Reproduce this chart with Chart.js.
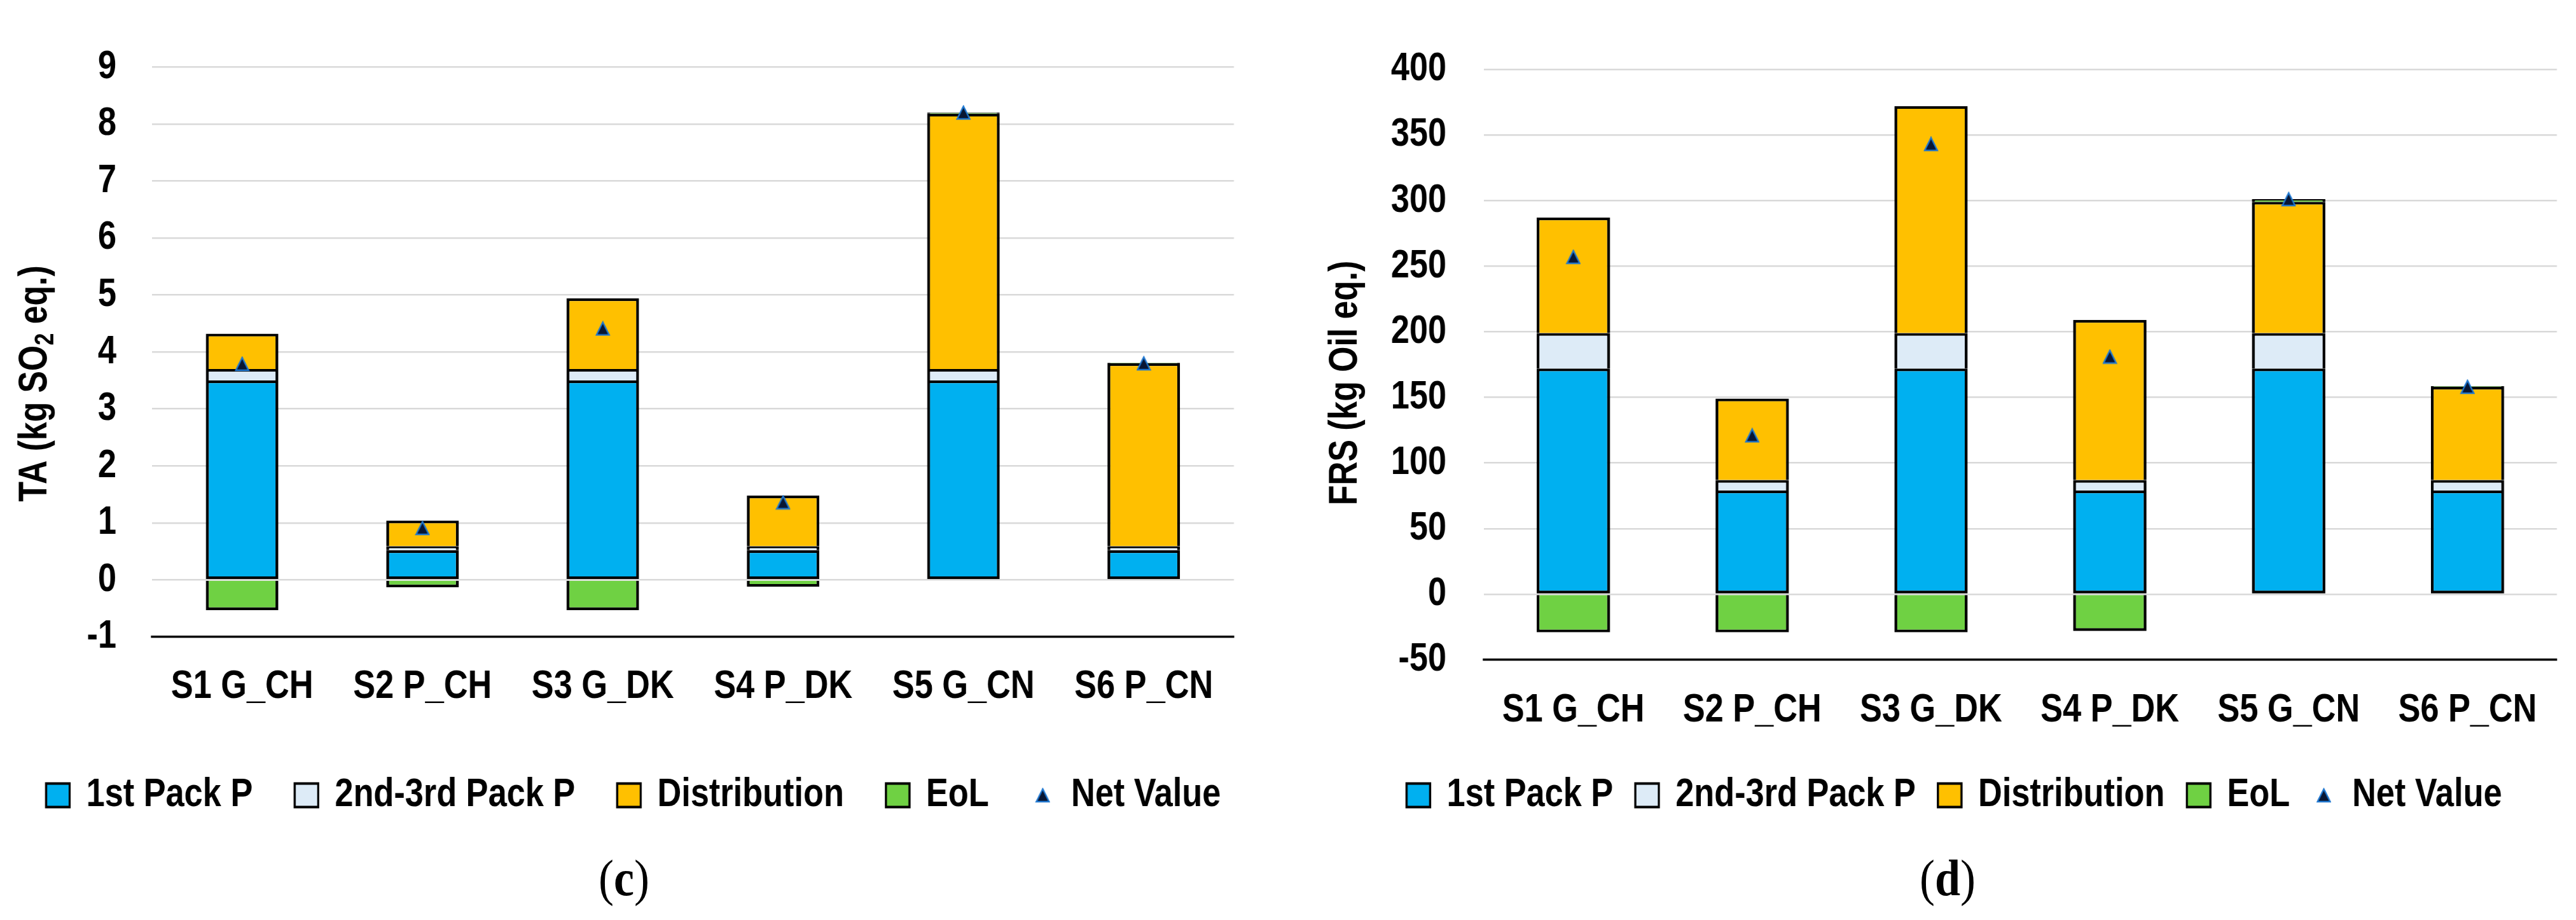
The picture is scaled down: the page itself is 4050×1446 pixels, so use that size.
<!DOCTYPE html>
<html>
<head>
<meta charset="utf-8">
<script src="https://cdn.jsdelivr.net/npm/chart.js@4/dist/chart.umd.min.js"></script>
<style>
html, body { margin: 0; padding: 0; background: #fff; overflow: hidden; width: 4050px; height: 1446px; position: relative; }
/* the figure uses a condensed (Arial Narrow-like) face: draw on a wider canvas and condense it horizontally */
canvas { position: absolute; top: 0; transform-origin: 0 0; transform: scaleX(0.83); }
#chartC { left: -20px; }
#chartD { left: 2025px; }
.panel { position: absolute; top: 1330px; font-family: "Liberation Serif", "Times New Roman", serif; font-size: 80px; line-height: 100px; color: #000; transform: translateX(-50%) scaleX(0.9); white-space: nowrap; }
</style>
</head>
<body>
<canvas id="chartC" width="2448" height="1446"></canvas>
<canvas id="chartD" width="2524" height="1446"></canvas>
<div class="panel" style="left:981px">(<b>c</b>)</div>
<div class="panel" style="left:3062px">(<b>d</b>)</div>
<script>
// ---------- data ----------
const categories = ['S1 G_CH', 'S2 P_CH', 'S3 G_DK', 'S4 P_DK', 'S5 G_CN', 'S6 P_CN'];
const seriesNames = ['1st Pack P', '2nd-3rd Pack P', 'Distribution', 'EoL', 'Net Value'];

// (c) TA (kg SO2 eq.)
const taFirstPack    = [3.50, 0.52, 3.50, 0.52, 3.50, 0.52];
const taSecondPack   = [0.20, 0.07, 0.20, 0.07, 0.20, 0.07];
const taDistribution = [0.62, 0.45, 1.24, 0.89, 4.48, 3.21];
const taEoL          = [-0.53, -0.13, -0.53, -0.12, 0.02, 0.01];
const taNet          = [3.79, 0.91, 4.41, 1.36, 8.20, 3.80];
const taAxis         = { min: -1, max: 9, step: 1 };

// (d) FRS (kg Oil eq.)
const frsFirstPack    = [172, 79, 172, 79, 172, 79];
const frsSecondPack   = [27, 8, 27, 8, 27, 8];
const frsDistribution = [88, 62, 173, 122, 100, 71];
const frsEoL          = [-29, -29, -29, -28, 2, 0.5];
const frsNet          = [257, 121, 343, 181, 301, 158];
const frsAxis         = { min: -50, max: 400, step: 50 };

// ---------- styling ----------
const S = 0.83;        // horizontal condensing of the canvases (CSS)
const NARROW = 0.82;   // width factor of the narrow face for the rotated titles
const FONT = '"Liberation Sans", Arial, sans-serif';
const COLORS = ['#00B0F0', '#DDEBF7', '#FFC000', '#6FD143'];
const MARK_FILL = '#081633';
const MARK_LINE = '#1F77D0';

Chart.defaults.font.family = FONT;
Chart.defaults.font.weight = 'bold';
Chart.defaults.font.size = 63;
Chart.defaults.color = '#000';

function triangleImage() {
  const c = document.createElement('canvas');
  c.width = 28; c.height = 24;
  const g = c.getContext('2d');
  g.beginPath();
  g.moveTo(14, 2); g.lineTo(26, 22); g.lineTo(2, 22); g.closePath();
  g.fillStyle = MARK_FILL; g.fill();
  g.lineWidth = 2.6; g.strokeStyle = MARK_LINE; g.stroke();
  return c;
}

const yTitlePlugin = {
  id: 'yTitle',
  afterDraw(chart, args, opts) {
    const ctx = chart.ctx;
    ctx.save();
    ctx.translate(opts.x, opts.y);
    ctx.rotate(-Math.PI / 2);
    ctx.scale(NARROW, 1 / S);
    ctx.fillStyle = '#000';
    ctx.textBaseline = 'alphabetic';
    ctx.textAlign = 'left';
    let total = 0;
    const parts = opts.parts.map(p => {
      ctx.font = 'bold ' + p.size + 'px ' + FONT;
      const w = ctx.measureText(p.text).width;
      total += w;
      return Object.assign({ w }, p);
    });
    let x = -total / 2;
    parts.forEach(p => {
      ctx.font = 'bold ' + p.size + 'px ' + FONT;
      ctx.fillText(p.text, x, p.dy);
      x += p.w;
    });
    ctx.restore();
  }
};

// g: geometry in canvas (logical) pixels
function makeChart(id, s, ax, g) {
  const tri = triangleImage();
  const bw = { top: 4.3, bottom: 4.3, left: 5.4, right: 5.4 };
  const bar = {
    type: 'bar', yAxisID: 'y', borderColor: '#000', borderWidth: bw, borderSkipped: 'start',
    barPercentage: g.barPct, categoryPercentage: 1, order: 1, pointStyle: 'rect'
  };
  const tickFont = { size: 63, weight: 'bold', family: FONT };
  return new Chart(document.getElementById(id), {
    data: {
      labels: categories,
      datasets: [
        Object.assign({}, bar, { label: seriesNames[0], data: s.first, backgroundColor: COLORS[0], borderSkipped: false }),
        Object.assign({}, bar, { label: seriesNames[1], data: s.second, backgroundColor: COLORS[1] }),
        Object.assign({}, bar, { label: seriesNames[2], data: s.dist, backgroundColor: COLORS[2] }),
        Object.assign({}, bar, { label: seriesNames[3], data: s.eol, backgroundColor: COLORS[3] }),
        { type: 'line', yAxisID: 'y', label: seriesNames[4], data: s.net, showLine: false, order: -1,
          pointStyle: tri, pointRadius: 12, pointHoverRadius: 12,
          backgroundColor: MARK_FILL, borderColor: MARK_LINE }
      ]
    },
    options: {
      responsive: false, animation: false, devicePixelRatio: 1, events: [],
      layout: { padding: { left: 0, right: 0, top: g.padT, bottom: g.padB }, autoPadding: false },
      plugins: {
        tooltip: { enabled: false },
        legend: {
          position: 'bottom', align: 'center',
          labels: {
            usePointStyle: true, pointStyleWidth: 37 / S, boxWidth: 37 / S, boxHeight: 37,
            padding: g.legPad, color: '#000', font: tickFont,
            generateLabels(chart) {
              const items = Chart.defaults.plugins.legend.labels.generateLabels(chart);
              items.sort((a, b) => a.datasetIndex - b.datasetIndex);
              items.forEach(it => {
                const ds = chart.data.datasets[it.datasetIndex];
                if (ds.type === 'line') { it.pointStyle = tri; it.lineWidth = 0; }
                else { it.pointStyle = 'rect'; it.lineWidth = 4; it.strokeStyle = '#000'; it.fillStyle = ds.backgroundColor; }
              });
              return items;
            }
          }
        },
        yTitle: { x: g.titleX, y: g.titleY, parts: g.titleParts }
      },
      scales: {
        x: {
          stacked: true,
          grid: { display: false, drawTicks: false },
          border: { display: true, color: '#000', width: 3.5 },
          ticks: { padding: g.xTickPad, maxRotation: 0, minRotation: 0, autoSkip: false, color: '#000', font: tickFont },
          afterFit(sc) { sc.height = g.xAxisH; }
        },
        y: {
          stacked: true, position: 'left', min: ax.min, max: ax.max,
          ticks: { stepSize: ax.step, autoSkip: false, padding: g.yTickPad, color: '#000', font: tickFont },
          grid: {
            drawTicks: false, lineWidth: 2.5,
            color: c => (c.tick && c.tick.value === ax.min) ? 'rgba(0,0,0,0)' : '#D9D9D9'
          },
          border: { display: false },
          afterFit(sc) { sc.width = g.yAxisW; }
        },
        // empty spacer on the right that fixes where the plot area ends
        yR: {
          type: 'linear', axis: 'y', position: 'right', display: true,
          ticks: { display: false }, grid: { display: false, drawTicks: false }, border: { display: false },
          afterFit(sc) { sc.width = g.rightW; }
        }
      }
    },
    plugins: [yTitlePlugin]
  });
}

// left canvas: screen x = -20 + 0.83 * canvas x
makeChart('chartC',
  { first: taFirstPack, second: taSecondPack, dist: taDistribution, eol: taEoL, net: taNet },
  taAxis,
  { padT: 63, padB: 154.5, yAxisW: 312.0, rightW: 86.6, xAxisH: 137.9,
    yTickPad: 67.5, xTickPad: 41, legPad: 79.6, barPct: 0.402,
    titleX: 112.0, titleY: 603,
    titleParts: [ { text: 'TA (kg SO', size: 63, dy: 0 }, { text: '2', size: 42, dy: 11 }, { text: ' eq.)', size: 63, dy: 0 } ] });

// right canvas: screen x = 2025 + 0.83 * canvas x
makeChart('chartD',
  { first: frsFirstPack, second: frsSecondPack, dist: frsDistribution, eol: frsEoL, net: frsNet },
  frsAxis,
  { padT: 63, padB: 154.5, yAxisW: 371.1, rightW: 120.4, xAxisH: 139.5,
    yTickPad: 71.1, xTickPad: 42, legPad: 42, barPct: 0.41,
    titleX: 130.1, titleY: 602,
    titleParts: [ { text: 'FRS (kg Oil eq.)', size: 63, dy: 0 } ] });
</script>
</body>
</html>
